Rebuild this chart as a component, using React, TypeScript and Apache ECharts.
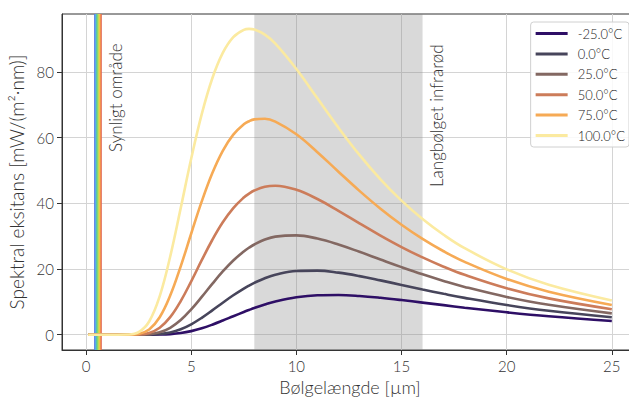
import React, { useEffect, useRef } from "react";
import * as echarts from "echarts";

// Wavelength samples [µm]
const wavelengths = [0.1, 1, 1.5, 2, 2.5, 3, 3.5, 4, 4.5, 5, 5.5, 6, 6.5, 7, 7.5, 7.75, 8, 8.5, 9, 10, 11, 12, 13, 14, 15, 16, 17, 18, 20, 22, 25];

// Spectral exitance [mW/(m²·nm)]
const exitanceM25 = [0, 0, 0, 0, 0, 0.01, 0.05, 0.19, 0.51, 1.1, 1.96, 3.06, 4.31, 5.63, 6.92, 7.54, 8.14, 9.2, 10.11, 11.38, 12.0, 12.08, 11.79, 11.24, 10.55, 9.78, 9.0, 8.23, 6.82, 5.61, 4.18];
const exitance0 = [0, 0, 0, 0, 0, 0.04, 0.21, 0.7, 1.67, 3.18, 5.15, 7.41, 9.75, 12.01, 14.06, 14.97, 15.8, 17.2, 18.25, 19.4, 19.5, 18.89, 17.84, 16.54, 15.16, 13.78, 12.45, 11.21, 9.05, 7.29, 5.3];
const exitance25 = [0, 0, 0, 0, 0.02, 0.16, 0.73, 2.11, 4.46, 7.7, 11.5, 15.47, 19.25, 22.59, 25.35, 26.5, 27.47, 28.96, 29.87, 30.25, 29.26, 27.45, 25.23, 22.88, 20.57, 18.38, 16.38, 14.56, 11.5, 9.11, 6.5];
const exitance50 = [0, 0, 0, 0, 0.07, 0.55, 2.13, 5.35, 10.23, 16.26, 22.68, 28.83, 34.21, 38.54, 41.76, 42.95, 43.88, 45.02, 45.34, 44.11, 41.3, 37.72, 33.91, 30.18, 26.69, 23.53, 20.71, 18.23, 14.15, 11.06, 7.76];
const exitance75 = [0, 0, 0, 0.01, 0.25, 1.6, 5.31, 11.91, 20.82, 30.81, 40.57, 49.14, 55.98, 60.92, 64.04, 64.98, 65.55, 65.74, 64.87, 61.0, 55.56, 49.62, 43.78, 38.35, 33.47, 29.17, 25.41, 22.17, 16.96, 13.1, 9.07];
const exitance100 = [0, 0, 0, 0.05, 0.77, 4.03, 11.7, 23.79, 38.53, 53.62, 67.15, 78.0, 85.79, 90.6, 92.81, 93.09, 92.88, 91.33, 88.58, 80.88, 71.95, 63.03, 54.73, 47.31, 40.82, 35.22, 30.43, 26.34, 19.9, 15.22, 10.43];

const seriesNames = ["-25.0°C", "0.0°C", "25.0°C", "50.0°C", "75.0°C", "100.0°C"];
const seriesValues = [exitanceM25, exitance0, exitance25, exitance50, exitance75, exitance100];

const xTicks = [0, 5, 10, 15, 20, 25];
const yTicks = [0, 20, 40, 60, 80];

const visibleRange = [0.38, 0.75];
const lwirRange = [8, 16];

const xLabel = "Bølgelængde [µm]";
const yLabel = "Spektral eksitans [mW/(m²·nm)]";
const visibleLabel = "Synligt område";
const lwirLabel = "Langbølget infrarød";

const colors = ["#2e0f66", "#47455b", "#836862", "#cc7c5a", "#f6aa55", "#fbeaa0"];
const FONT = "Lato, 'Open Sans', sans-serif";

export default function App() {
  const ref = useRef<HTMLDivElement>(null);
  useEffect(() => {
    if (!ref.current) return;
    const chart = echarts.init(ref.current, null, { renderer: "svg" });
    const lineSeries = seriesNames.map((name, k) => ({
      name,
      type: "line",
      data: wavelengths.map((x, i) => [x, seriesValues[k][i]]),
      showSymbol: false,
      symbol: "none",
      smooth: 0.4,
      color: colors[k],
      lineStyle: { width: 2.6, color: colors[k] },
      z: 3,
      silent: true,
    }));
    const axisText = { color: "#333", fontFamily: FONT, fontWeight: 300 };
    chart.setOption({
      animation: false,
      backgroundColor: "#fff",
      textStyle: { fontFamily: FONT },
      grid: {
        left: 62, top: 14, right: -9, bottom: 48,
        outerBoundsMode: "none", containLabel: false,
        show: true, borderColor: "#333", borderWidth: 1, backgroundColor: "transparent",
      },
      xAxis: {
        type: "value",
        min: -1.145,
        max: 26.245,
        name: xLabel,
        nameLocation: "middle",
        nameGap: 25,
        nameTextStyle: { ...axisText, fontSize: 18 },
        axisLine: { show: true, onZero: false, lineStyle: { color: "#333", width: 1 } },
        axisTick: { show: true, length: 5, customValues: xTicks, lineStyle: { color: "#333" } },
        axisLabel: { customValues: xTicks, margin: 8, fontSize: 15, ...axisText },
        splitLine: { show: true, lineStyle: { color: "#d4d4d4", width: 1 } },
      },
      yAxis: {
        type: "value",
        min: -4.65,
        max: 97.62,
        name: yLabel,
        nameLocation: "middle",
        nameGap: 33,
        nameRotate: 90,
        nameTextStyle: { ...axisText, fontSize: 19 },
        axisLine: { show: true, onZero: false, lineStyle: { color: "#333", width: 1 } },
        axisTick: { show: true, length: 5, customValues: yTicks, lineStyle: { color: "#333" } },
        axisLabel: { customValues: yTicks, margin: 8, fontSize: 15, ...axisText },
        splitLine: { show: true, lineStyle: { color: "#d4d4d4", width: 1 } },
      },
      legend: {
        data: seriesNames,
        orient: "vertical",
        right: 0,
        top: 22,
        icon: "rect",
        itemWidth: 32,
        itemHeight: 3,
        itemGap: 7.4,
        padding: [5, 4, 5, 5],
        backgroundColor: "rgba(255,255,255,0.85)",
        borderColor: "#d0d0d0",
        borderWidth: 1,
        borderRadius: 3,
        textStyle: { color: "#222", fontSize: 13, lineHeight: 13, fontFamily: FONT, fontWeight: 300, padding: [0, 0, 0, 5] },
      },
      graphic: [
        {
          type: "text",
          x: 115.5,
          y: 152,
          rotation: Math.PI / 2,
          z: 10,
          style: { text: visibleLabel, fill: "#333", font: `300 17px ${FONT}`, textAlign: "left", textVerticalAlign: "middle", align: "left", verticalAlign: "middle" },
        },
        {
          type: "text",
          x: 436,
          y: 187,
          rotation: Math.PI / 2,
          z: 10,
          style: { text: lwirLabel, fill: "#333", font: `300 17px ${FONT}`, textAlign: "left", textVerticalAlign: "middle", align: "left", verticalAlign: "middle" },
        },
      ],
      series: [
        {
          name: "lwir",
          type: "line",
          data: [],
          z: 1,
          silent: true,
          markArea: {
            silent: true,
            itemStyle: { color: "rgba(128,128,128,0.3)" },
            data: [[{ xAxis: lwirRange[0] }, { xAxis: lwirRange[1] }]],
          },
        },
        ...lineSeries,
        {
          name: "visible",
          type: "line",
          data: [],
          z: 5,
          silent: true,
          markArea: {
            silent: true,
            itemStyle: {
              color: new echarts.graphic.LinearGradient(0, 0, 1, 0, [
                { offset: 0, color: "#5a6fe0" },
                { offset: 0.18, color: "#58a8ee" },
                { offset: 0.36, color: "#5cd08a" },
                { offset: 0.52, color: "#a8dc5a" },
                { offset: 0.66, color: "#f2d44c" },
                { offset: 0.8, color: "#f3964c" },
                { offset: 1, color: "#dc6058" },
              ]),
            },
            data: [[{ xAxis: visibleRange[0] }, { xAxis: visibleRange[1] }]],
          },
        },
      ],
    });
    return () => chart.dispose();
  }, []);
  return <div ref={ref} style={{ width: 629, height: 398, position: "absolute", left: 0, top: 0 }} />;
}
